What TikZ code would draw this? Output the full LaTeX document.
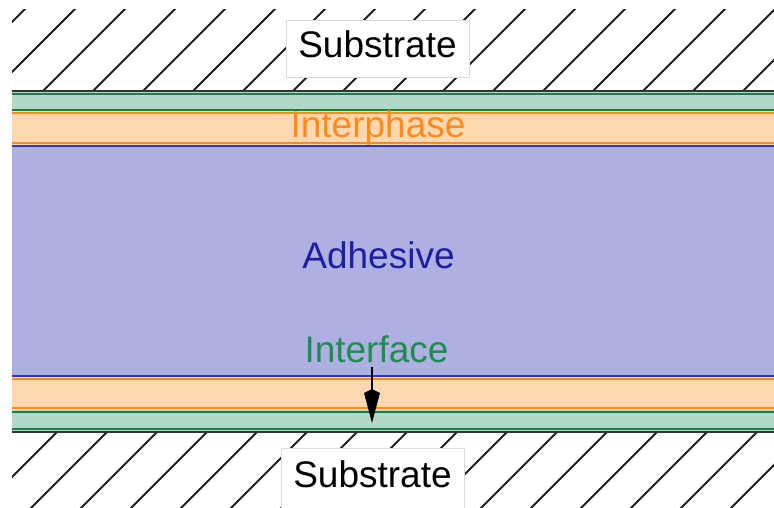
\documentclass[tikz,border=0pt]{standalone}
\usepackage{fontspec}
\setmainfont{Liberation Sans}
\usetikzlibrary{arrows.meta}

\definecolor{adhfill}{HTML}{AEB0E2}
\definecolor{adhline}{HTML}{3535AD}
\definecolor{adhtext}{HTML}{1E1EA0}
\definecolor{phasefill}{HTML}{FFD8B2}
\definecolor{phaseline}{HTML}{FF8A1E}
\definecolor{facefill}{HTML}{B2D8C6}
\definecolor{faceline}{HTML}{1E7D4C}
\definecolor{facetext}{HTML}{1F8C50}
\definecolor{subline}{HTML}{333333}
\definecolor{boxline}{HTML}{DADADA}

\tikzset{
  hatchline/.style={line width=2pt, black!88, line cap=round},
  edge/.style={line width=2.5pt},
  label/.style={inner sep=0pt, font=\fontsize{37}{40}\selectfont},
  subbox/.style={label, draw=boxline, line width=1pt, fill=white,
                 minimum width=183pt},
}

\begin{document}
\begin{tikzpicture}[x=1pt, y=-1pt]
  \useasboundingbox (0,0) rectangle (774,508);

  % hatched substrate, top
  \begin{scope}
    \clip (12,10) rectangle (790,91);
    \foreach \k in {-3,...,16}
      \draw[hatchline] (43+50*\k,91) -- (43+50*\k+100,-9);
  \end{scope}
  % hatched substrate, bottom
  \begin{scope}
    \clip (12,432) rectangle (790,520);
    \foreach \k in {-3,...,16}
      \draw[hatchline] (57+50*\k,432) -- (57+50*\k-100,532);
  \end{scope}

  % layer fills
  \fill[facefill]  (12,91)  rectangle (790,111);
  \fill[phasefill] (12,111) rectangle (790,146);
  \fill[adhfill]   (12,146) rectangle (790,376);
  \fill[phasefill] (12,376) rectangle (790,410);
  \fill[facefill]  (12,410) rectangle (790,432);

  % layer boundaries
  \draw[edge, faceline]  (12,94)  -- (790,94);
  \draw[edge, faceline]  (12,110) -- (790,110);
  \draw[edge, phaseline] (12,113) -- (790,113);
  \draw[edge, phaseline] (12,143) -- (790,143);
  \draw[edge, adhline]   (12,146) -- (790,146);
  \draw[edge, adhline]   (12,376) -- (790,376);
  \draw[edge, phaseline] (12,379) -- (790,379);
  \draw[edge, phaseline] (12,408) -- (790,408);
  \draw[edge, faceline]  (12,412) -- (790,412);
  \draw[edge, faceline]  (12,429) -- (790,429);
  \draw[line width=2.6pt, subline] (12,91)  -- (790,91);
  \draw[line width=2.6pt, subline] (12,432) -- (790,432);

  % labels
  \node[subbox, anchor=base, text height=37pt, text depth=20pt]
    (subtop) at (377.5,58) {Substrate};
  \node[subbox, anchor=base, text height=39pt, text depth=40pt]
    (subbot) at (372.5,487) {Substrate};
  \node[label, anchor=base, text=phaseline] (phase) at (378,138) {Interphase};
  \node[label, anchor=base, text=adhtext] (adh) at (378.5,268) {Adhesive};
  \node[label, anchor=base, text=facetext, text depth=0pt]
    (iface) at (376.5,362) {Interface};

  % pointer to the interface
  \coordinate (ifacetip) at (372,423);
  \draw[line width=1.8pt, black,
        -{Kite[length=34pt, width=16pt, inset=4pt]}]
    ([yshift=-5pt]iface.south -| ifacetip) -- (ifacetip);
\end{tikzpicture}
\end{document}
